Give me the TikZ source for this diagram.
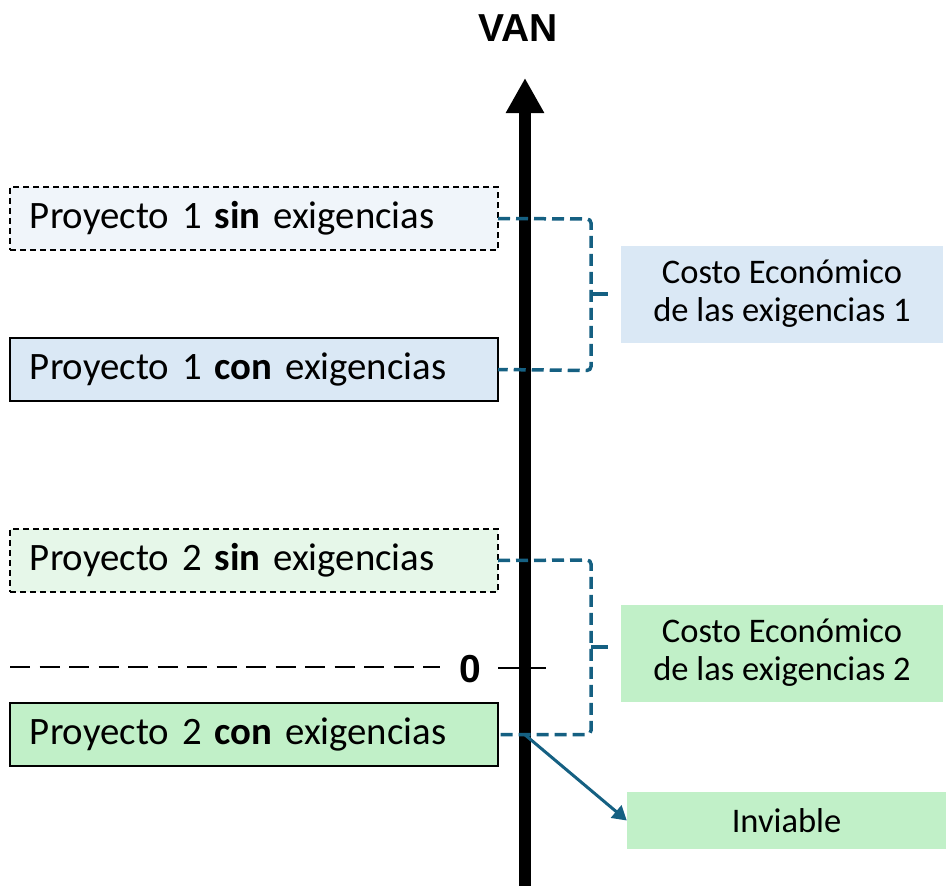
\documentclass[tikz,border=0pt]{standalone}
\usepackage{fontspec}
\setmainfont{Carlito}
\newfontfamily\arialf{Liberation Sans}
\usetikzlibrary{arrows.meta}
\definecolor{tealc}{HTML}{156082}
\definecolor{blueL}{HTML}{F0F5FA}
\definecolor{blueM}{HTML}{DAE8F5}
\definecolor{greenL}{HTML}{E6F7E9}
\definecolor{greenM}{HTML}{C1F0C8}
\tikzset{
  pbox/.style={draw=black, line width=2.2pt, minimum width=488pt, minimum height=63pt,
    text width=448pt, inner xsep=20pt, align=left, anchor=north west, outer sep=0pt,
    font=\fontsize{38.8}{46}\selectfont},
  dbox/.style={pbox, dash pattern=on 6pt off 4pt},
  cbox/.style={minimum width=322pt, minimum height=97pt, align=center, inner sep=0pt,
    font=\fontsize{34.5}{38}\selectfont},
  brk/.style={draw=tealc, line width=3.5pt, dash pattern=on 12pt off 6pt, rounded corners=4pt},
}
\begin{document}
\begin{tikzpicture}[x=1pt,y=-1pt]
\useasboundingbox (0,0) rectangle (946,886);
% axis
\coordinate (ab) at (525,886);
\coordinate (at) at (525,78);
\draw[line width=12pt, -{Triangle[width=36pt,length=35pt]}] (ab) -- (at);
\node[font=\arialf\bfseries\fontsize{39}{40}\selectfont] (van) at (518,28) {VAN};

% project boxes
\node[dbox, fill=blueL] (p1s) at (10,187) {Proyecto 1 \textbf{sin} exigencias};
\node[pbox, fill=blueM] (p1c) at (10,338) {Proyecto 1 \textbf{con} exigencias};
\node[dbox, fill=greenL] (p2s) at (10,529) {Proyecto 2 \textbf{sin} exigencias};
\node[pbox, fill=greenM] (p2c) at (10,703) {Proyecto 2 \textbf{con} exigencias};

% zero line
\node[font=\arialf\bfseries\fontsize{39}{40}\selectfont, inner sep=0pt] (zero) at (470,669) {0};
\coordinate (zl) at (10,667);
\coordinate (zr) at (440,667);
\coordinate (zs) at (498,668);
\coordinate (ze) at (546,668);
\draw[line width=2.8pt, dash pattern=on 20pt off 9.5pt] (zl) -- (zr);
\draw[line width=2.8pt] (zs) -- (ze);

% cost boxes
\node[cbox, fill=blueM] (c1) at (782,294) {Costo Económico\\de las exigencias 1};
\node[cbox, fill=greenM] (c2) at (782,653) {Costo Económico\\de las exigencias 2};
\node[cbox, fill=greenM, minimum width=319pt, minimum height=57pt] (inv) at (786.5,820.5) {Inviable};

% brackets
\draw[brk] (p1s.east) -- (591,219) -- (591,370.5) -- (p1c.east);
\coordinate (t1a) at (591,294);
\coordinate (t1b) at (608,294);
\draw[tealc, line width=3.5pt] (t1a) -- (t1b);
\draw[brk] (p2s.east) -- (591,560) -- (591,734.5) -- (p2c.east);
\coordinate (t2a) at (591,647);
\coordinate (t2b) at (608,647);
\draw[tealc, line width=3.5pt] (t2a) -- (t2b);

% arrow to inviable
\coordinate (iv) at (524,734);
\draw[tealc, line width=3pt, -{Triangle[width=16pt,length=14pt]}] (iv) -- (inv.west);
\end{tikzpicture}
\end{document}
